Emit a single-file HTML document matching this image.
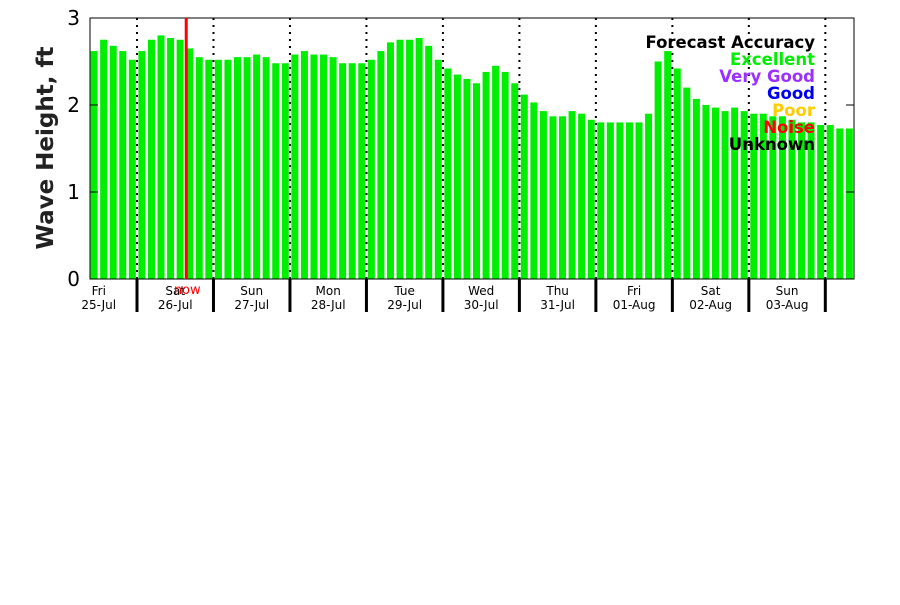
<!DOCTYPE html>
<html><head><meta charset="utf-8"><style>
body{margin:0;background:#fff;width:900px;height:600px;overflow:hidden}
svg text{font-family:"DejaVu Sans","Liberation Sans",sans-serif}
</style></head><body>
<svg id="chart" width="900" height="600" xmlns="http://www.w3.org/2000/svg"></svg>
<script>
const values=[2.62,2.75,2.68,2.62,2.52,
2.62,2.75,2.80,2.77,2.75,2.65,2.55,2.52,
2.52,2.52,2.55,2.55,2.58,2.55,2.48,2.48,
2.58,2.62,2.58,2.58,2.55,2.48,2.48,2.48,
2.52,2.62,2.72,2.75,2.75,2.77,2.68,2.52,
2.42,2.35,2.30,2.25,2.38,2.45,2.38,2.25,
2.12,2.03,1.93,1.87,1.87,1.93,1.90,1.83,
1.80,1.80,1.80,1.80,1.80,1.90,2.50,2.62,
2.42,2.20,2.07,2.00,1.97,1.93,1.97,1.93,
1.90,1.90,1.87,1.87,1.83,1.80,1.80,1.77,
1.77,1.73,1.73];
const dayNames=["Fri","Sat","Sun","Mon","Tue","Wed","Thu","Fri","Sat","Sun"];
const dayDates=["25-Jul","26-Jul","27-Jul","28-Jul","29-Jul","30-Jul","31-Jul","01-Aug","02-Aug","03-Aug"];
const yTicks=[0,1,2,3];
const nowIndex=10.15;
const firstOffset=5;
const legendLabels=["Forecast Accuracy","Excellent","Very Good","Good","Poor","Noise","Unknown"];
const legendColors=["#000","#00ee00","#9b30ff","#0000ee","#ffcc00","#ff0000","#000"];

const svg=document.getElementById('chart');
const NS="http://www.w3.org/2000/svg";
const L=90,R=854,T=18,B=279,step=9.56;
const x0=137-firstOffset*step;
const xs=i=>x0+i*step;
const ys=v=>B-(v/3)*(B-T);
function mk(tag,at,txt){const e=document.createElementNS(NS,tag);for(const k in at)e.setAttribute(k,at[k]);if(txt!==undefined)e.textContent=txt;svg.appendChild(e);return e;}

values.forEach((v,i)=>{
 const r=mk('rect',{x:xs(i)+1.4,y:ys(v),width:7,height:B-ys(v),fill:'#00ee00'});
 
 
});
for(let d=0;d<dayNames.length;d++){
 const bx=xs(firstOffset+d*8);
 if(d<dayNames.length){
  const l=mk('line',{x1:bx,x2:bx,y1:T,y2:B,stroke:'#000','stroke-width':2,'stroke-dasharray':'2,5'});
  
  
  const t=mk('line',{x1:bx,x2:bx,y1:B,y2:312,stroke:'#000','stroke-width':3});
  
  
 }
 const cx=bx-4*step;
 const a=mk('text',{x:cx,y:295,'font-size':12,'text-anchor':'middle'},dayNames[d]);
 
 
 const b=mk('text',{x:cx,y:309,'font-size':12,'text-anchor':'middle'},dayDates[d]);
 
 
}
// last boundary after Sun
const lb=xs(firstOffset+10*8);
if(lb<R){const t=mk('line',{x1:lb,x2:lb,y1:B,y2:312,stroke:'#000','stroke-width':3});}
const frame=mk('rect',{x:L,y:T,width:R-L,height:B-T,fill:'none',stroke:'#000','stroke-width':1});


yTicks.forEach(v=>{
 const t=mk('text',{x:80,y:ys(v)+7,'font-size':20,'text-anchor':'end'},String(v));
 
 
 if(v>0&&v<3){
  const a=mk('line',{x1:L,x2:L+8,y1:ys(v),y2:ys(v),stroke:'#000'});
  
  
  const b=mk('line',{x1:R-8,x2:R,y1:ys(v),y2:ys(v),stroke:'#000'});
  
  
 }
});
const nx=xs(nowIndex);
const nl=mk('line',{x1:nx,x2:nx,y1:T,y2:B,stroke:'#ff0000','stroke-width':3});


const nt=mk('text',{x:nx+1,y:294,'font-size':13,fill:'#ff0000','text-anchor':'middle'},'now');


const yt=mk('text',{x:0,y:0,'font-size':23,'font-weight':'bold','text-anchor':'middle',fill:'#222',transform:'translate(53,148) rotate(-90)'},'Wave Height, ft');


legendLabels.forEach((s,i)=>{
 const t=mk('text',{x:815,y:48+i*17,'font-size':16.5,'font-weight':'bold','text-anchor':'end',fill:legendColors[i]},s);
 
 
});
</script>
</body></html>
